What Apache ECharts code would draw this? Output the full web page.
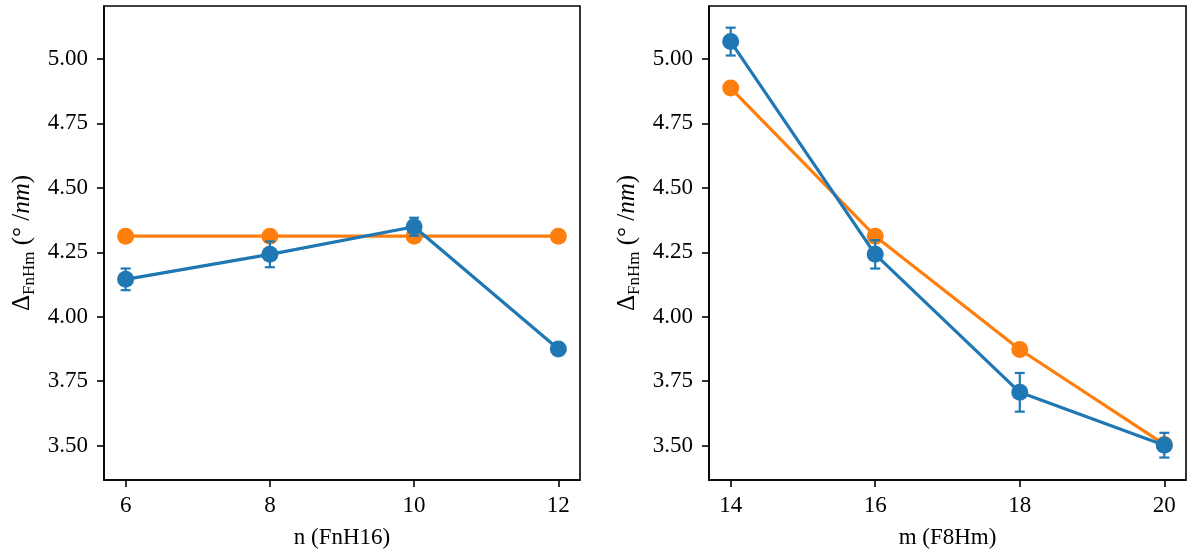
<!DOCTYPE html>
<html><head><meta charset="utf-8">
<script src="https://cdn.jsdelivr.net/npm/echarts@6/dist/echarts.min.js"></script>
<style>html,body{margin:0;padding:0;background:#fff}#c{width:1188px;height:559px}</style>
</head><body><div id="c"></div>
<script>
// Left panel: n (FnH16)
const nValues = [6, 8, 10, 12];
const leftBlue = [4.145, 4.242, 4.349, 3.875];
const leftBlueErr = [0.042, 0.05, 0.035, 0.008];
const leftOrange = [4.3125, 4.3125, 4.3125, 4.3125];
// Right panel: m (F8Hm)
const mValues = [14, 16, 18, 20];
const rightBlue = [5.067, 4.242, 3.707, 3.502];
const rightBlueErr = [0.054, 0.055, 0.075, 0.048];
const rightOrange = [4.887, 4.3125, 3.873, 3.505];
const rightOrangeErr = [0.02, 0.0, 0.0, 0.0];
const yTicks = [3.50, 3.75, 4.00, 4.25, 4.50, 4.75, 5.00];
const xTicksLeft = [6, 8, 10, 12];
const xTicksRight = [14, 16, 18, 20];

const BLUE = '#1f77b4', ORANGE = '#ff7f0e';
const FONT = 'Liberation Serif';
const chart = echarts.init(document.getElementById('c'));

function pts(xs, ys) { return xs.map((x, i) => [x, ys[i]]); }
function errs(xs, ys, es) { return xs.map((x, i) => [x, ys[i] - es[i], ys[i] + es[i]]); }

function errSeries(idx, data, color, z) {
  return {
    type: 'custom', xAxisIndex: idx, yAxisIndex: idx, z: z, silent: true,
    data: data,
    renderItem: function (params, api) {
      const lo = api.coord([api.value(0), api.value(1)]);
      const hi = api.coord([api.value(0), api.value(2)]);
      const hw = 5;
      const st = { stroke: color, lineWidth: 2.2 };
      return { type: 'group', children: [
        { type: 'line', shape: { x1: lo[0], y1: lo[1], x2: hi[0], y2: hi[1] }, style: st },
        { type: 'line', shape: { x1: lo[0] - hw, y1: lo[1], x2: lo[0] + hw, y2: lo[1] }, style: st },
        { type: 'line', shape: { x1: hi[0] - hw, y1: hi[1], x2: hi[0] + hw, y2: hi[1] }, style: st }
      ]};
    }
  };
}
function lineSeries(idx, data, color, z) {
  return {
    type: 'line', xAxisIndex: idx, yAxisIndex: idx, z: z, data: data,
    symbol: 'circle', symbolSize: 17, showSymbol: true,
    lineStyle: { color: color, width: 3.2 }, itemStyle: { color: color },
    emphasis: { disabled: true }, animation: false
  };
}
const axisLbl = { color: '#000', fontFamily: FONT, fontSize: 23 };
function xAxis(idx, min, max, ticks, name) {
  return {
    type: 'value', gridIndex: idx, min: min, max: max,
    name: name, nameLocation: 'middle', nameGap: 46,
    nameTextStyle: { color: '#000', fontFamily: FONT, fontSize: 23 },
    axisLine: { show: true, onZero: false, lineStyle: { color: '#000', width: 1.6 } },
    axisTick: { show: true, length: 7, inside: false, customValues: ticks, lineStyle: { color: '#000', width: 1.6 } },
    axisLabel: Object.assign({ customValues: ticks, margin: 14, formatter: v => String(Math.round(v)) }, axisLbl),
    splitLine: { show: false }
  };
}
function yAxis(idx) {
  return {
    type: 'value', gridIndex: idx, min: 3.367, max: 5.205,
    name: '{d|Δ}{s|FnHm}{n| (° /}{i|nm}{n|)}', nameLocation: 'middle', nameGap: 66, nameRotate: 90,
    nameTextStyle: {
      color: '#000', fontFamily: FONT,
      rich: {
        d: { fontFamily: FONT, fontSize: 25, color: '#000', lineHeight: 32, verticalAlign: 'middle' },
        s: { fontFamily: FONT, fontSize: 17, color: '#000', lineHeight: 18, verticalAlign: 'bottom' },
        n: { fontFamily: FONT, fontSize: 25, color: '#000', lineHeight: 32, verticalAlign: 'middle' },
        i: { fontFamily: FONT, fontSize: 25, fontStyle: 'italic', color: '#000', lineHeight: 32, verticalAlign: 'middle' }
      }
    },
    axisLine: { show: true, onZero: false, lineStyle: { color: '#000', width: 1.6 } },
    axisTick: { show: true, length: 7, customValues: yTicks, lineStyle: { color: '#000', width: 1.6 } },
    axisLabel: Object.assign({ customValues: yTicks, margin: 16, formatter: v => v.toFixed(2) }, axisLbl),
    splitLine: { show: false }
  };
}

chart.setOption({
  animation: false,
  backgroundColor: '#fff',
  grid: [
    { left: 104, top: 6, width: 476, height: 474, show: true, borderColor: '#000', borderWidth: 1.6, backgroundColor: 'transparent' },
    { left: 709, top: 6, width: 477, height: 474, show: true, borderColor: '#000', borderWidth: 1.6, backgroundColor: 'transparent' }
  ],
  xAxis: [
    xAxis(0, 5.7, 12.3, xTicksLeft, 'n (FnH16)'),
    xAxis(1, 13.7, 20.3, xTicksRight, 'm (F8Hm)')
  ],
  yAxis: [yAxis(0), yAxis(1)],
  series: [
    lineSeries(0, pts(nValues, leftOrange), ORANGE, 2),
    errSeries(1, errs(mValues, rightOrange, rightOrangeErr), ORANGE, 2),
    lineSeries(1, pts(mValues, rightOrange), ORANGE, 2),
    errSeries(0, errs(nValues, leftBlue, leftBlueErr), BLUE, 3),
    lineSeries(0, pts(nValues, leftBlue), BLUE, 3),
    errSeries(1, errs(mValues, rightBlue, rightBlueErr), BLUE, 3),
    lineSeries(1, pts(mValues, rightBlue), BLUE, 3)
  ]
});
</script></body></html>
